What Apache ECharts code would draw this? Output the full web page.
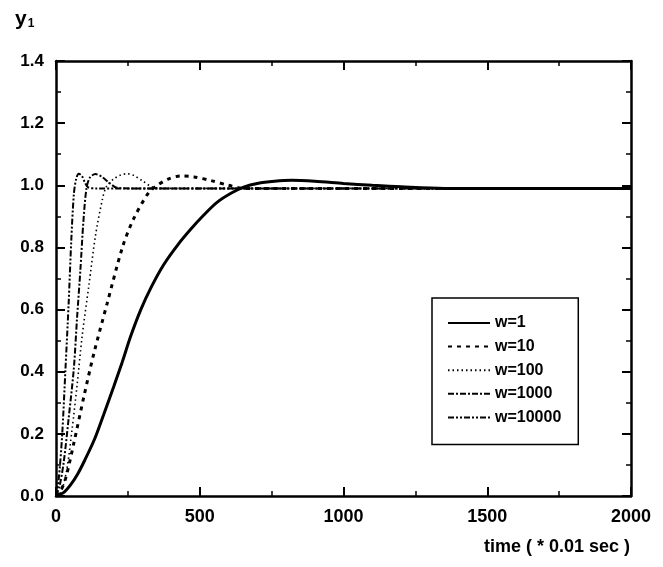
<!DOCTYPE html>
<html>
<head>
<meta charset="utf-8">
<script src="https://cdn.jsdelivr.net/npm/echarts@6/dist/echarts.min.js"></script>
<style>
  html, body { margin: 0; padding: 0; background: #fff; }
  #chart { width: 663px; height: 567px; }
</style>
</head>
<body>
<div id="chart"></div>
<script>
// step responses, time in units of 0.01 sec
const names = ['w=1', 'w=10', 'w=100', 'w=1000', 'w=10000'];

const t1 = [0, 25, 50, 75, 100, 135, 165, 200, 230, 260, 295, 330, 375, 425, 470, 515, 560, 610, 655, 700, 760, 820, 900, 1000, 1100, 1200, 1350, 1600, 2000];
const y1 = [0, 0.01, 0.035, 0.07, 0.115, 0.185, 0.26, 0.35, 0.43, 0.515, 0.6, 0.67, 0.745, 0.81, 0.86, 0.905, 0.945, 0.975, 0.995, 1.006, 1.013, 1.016, 1.013, 1.006, 1.0, 0.995, 0.99, 0.99, 0.99];

const t10 = [0, 15, 33, 62, 97, 132, 178, 231, 269, 322, 353, 390, 434, 480, 540, 600, 654, 800, 2000];
const y10 = [0, 0.015, 0.055, 0.17, 0.32, 0.46, 0.62, 0.80, 0.89, 0.976, 1.0, 1.02, 1.03, 1.027, 1.015, 1.0, 0.99, 0.99, 0.99];

const t100 = [0, 10, 21, 38, 56, 73, 91, 114, 137, 161, 175, 200, 225, 247, 270, 300, 340, 400, 2000];
const y100 = [0, 0.005, 0.02, 0.087, 0.215, 0.354, 0.515, 0.675, 0.836, 0.953, 0.995, 1.02, 1.033, 1.037, 1.032, 1.015, 0.993, 0.99, 0.99];

const t1000 = [0, 12, 27, 44, 62, 73, 85, 95, 106, 118, 137, 160, 185, 212, 260, 2000];
const y1000 = [0, 0.03, 0.11, 0.25, 0.41, 0.57, 0.73, 0.88, 0.99, 1.025, 1.036, 1.027, 1.008, 0.992, 0.99, 0.99];

const t10000 = [0, 9, 21, 33, 44, 53, 62, 70, 79, 90, 100, 112, 140, 2000];
const y10000 = [0, 0.05, 0.19, 0.41, 0.62, 0.82, 0.97, 1.02, 1.037, 1.03, 1.01, 0.993, 0.99, 0.99];

const xTicks = [0, 500, 1000, 1500, 2000];
const yTicks = [0.0, 0.2, 0.4, 0.6, 0.8, 1.0, 1.2, 1.4];

const font = '"Liberation Sans", Arial, sans-serif';
const black = '#000';

function pairs(t, y) {
  return t.map((v, i) => [v, y[i]]);
}

const lineStyles = [
  { width: 3, type: 'solid' },
  { width: 3, type: [4, 5] },
  { width: 1.6, type: [1.5, 3] },
  { width: 2, type: [6, 2, 2, 2] },
  { width: 2, type: [6, 2, 2, 2, 2, 2] }
];
const dataSets = [pairs(t1, y1), pairs(t10, y10), pairs(t100, y100), pairs(t1000, y1000), pairs(t10000, y10000)];

const tickCommon = {
  axisLine: { show: true, onZero: false, lineStyle: { color: black, width: 2.5 } },
  axisTick: { show: true, inside: true, length: 9, lineStyle: { color: black, width: 2 } },
  minorTick: { show: true, splitNumber: 2, length: 5, lineStyle: { color: black, width: 1.5 } },
  splitLine: { show: false },
  minorSplitLine: { show: false }
};

const chart = echarts.init(document.getElementById('chart'), null, { renderer: 'canvas' });

chart.setOption({
  backgroundColor: '#fff',
  animation: false,
  textStyle: { fontFamily: font },
  grid: { left: 56, top: 61, width: 575, height: 435, containLabel: false },
  xAxis: [
    Object.assign({
      type: 'value', min: xTicks[0], max: xTicks[xTicks.length - 1], interval: 500,
      position: 'bottom',
      axisLabel: { color: black, fontSize: 18, fontWeight: 'bold', fontFamily: font, margin: 12, formatter: v => String(v) }
    }, tickCommon),
    Object.assign({
      type: 'value', min: xTicks[0], max: xTicks[xTicks.length - 1], interval: 500,
      position: 'top',
      axisLabel: { show: false }
    }, tickCommon)
  ],
  yAxis: [
    Object.assign({
      type: 'value', min: yTicks[0], max: yTicks[yTicks.length - 1], interval: 0.2,
      position: 'left',
      axisLabel: {
        color: black, fontSize: 17, fontWeight: 'bold', fontFamily: font, margin: 12,
        formatter: v => v.toFixed(1)
      }
    }, tickCommon),
    Object.assign({
      type: 'value', min: yTicks[0], max: yTicks[yTicks.length - 1], interval: 0.2,
      position: 'right',
      axisLabel: { show: false }
    }, tickCommon)
  ],
  legend: {
    orient: 'vertical',
    left: 432,
    top: 298,
    data: names,
    itemWidth: 42,
    itemHeight: 14,
    itemGap: 7.6,
    padding: [17, 17, 19, 15],
    borderColor: black,
    borderWidth: 1.5,
    backgroundColor: '#fff',
    itemStyle: { opacity: 0 },
    textStyle: { color: black, fontSize: 16, fontWeight: 'bold', fontFamily: font }
  },
  title: {
    text: '{a|y}{b|1}',
    left: 10,
    top: 3,
    textStyle: {
      rich: {
        a: { fontSize: 21, fontWeight: 'bold', color: black, fontFamily: font },
        b: { fontSize: 12, fontWeight: 'bold', color: black, fontFamily: font, padding: [10, 0, 0, 1] }
      }
    }
  },
  graphic: [{
    type: 'text',
    right: 33,
    top: 538,
    style: {
      text: 'time ( * 0.01 sec )',
      fill: black,
      font: 'bold 18px ' + font
    }
  }],
  series: names.map((n, i) => ({
    name: n,
    type: 'line',
    xAxisIndex: 0,
    yAxisIndex: 0,
    data: dataSets[i],
    smooth: 0.3,
    symbol: 'none',
    showSymbol: false,
    color: black,
    lineStyle: Object.assign({ color: black }, lineStyles[i]),
    z: 5 - i
  }))
});
</script>
</body>
</html>
